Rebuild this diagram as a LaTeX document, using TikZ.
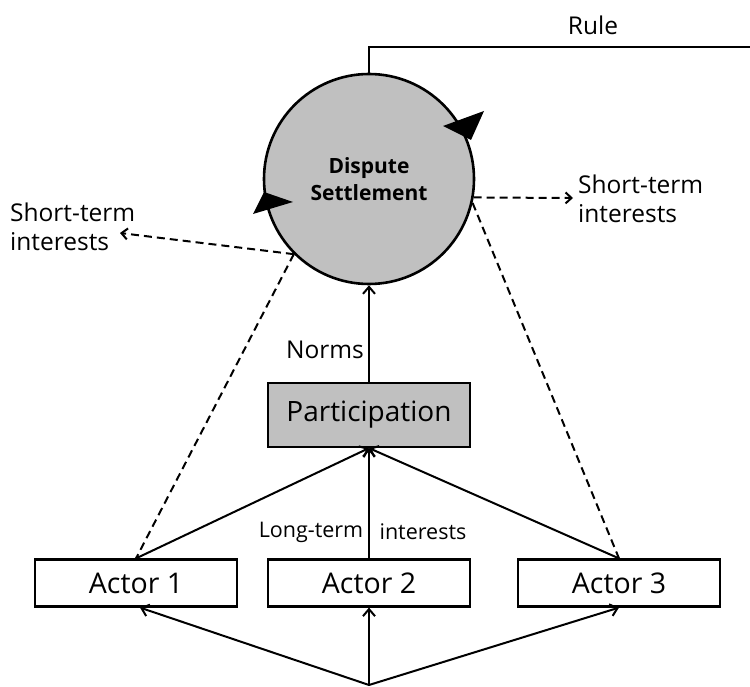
\documentclass[tikz,border=0pt]{standalone}
\usepackage{fontspec}
\setmainfont{Open Sans}
\usetikzlibrary{arrows.meta}
\definecolor{fillgray}{RGB}{192,192,192}
\begin{document}
\begin{tikzpicture}[x=1pt,y=-1pt,
  box/.style={draw, line width=2.2pt, minimum width=202pt, minimum height=47pt, inner sep=0pt,
    font=\fontsize{28.5}{32}\selectfont},
  lbl/.style={inner sep=0pt, font=\fontsize{24.5}{29}\selectfont, align=left},
  conn/.style={line width=2pt, -{Straight Barb[length=7pt,width=12pt]}},
  dconn/.style={line width=2pt, dash pattern=on 8pt off 5pt},
  head/.style={fill=black, draw=none}]
\useasboundingbox (0,0) rectangle (750,687);

% nodes
\node[circle, draw, line width=2.6pt, fill=fillgray, minimum size=210pt, inner sep=0pt,
  font=\bfseries\fontsize{21}{27}\selectfont, align=center] (ds) at (369,179) {Dispute\\Settlement};
\node[box, fill=fillgray, minimum height=64pt, font=\fontsize{28}{32}\selectfont] (part) at (369,415) {Participation};
\node[box] (a1) at (136,583) {Actor 1};
\node[box] (a2) at (369,583) {Actor 2};
\node[box] (a3) at (619,583) {Actor 3};
\coordinate (src) at (369,685);
\coordinate (rc) at (369,47);
\coordinate (re) at (750,47);
\coordinate (stl) at (120,233);
\coordinate (str) at (573,198);

\node[lbl] (rule) at (593,25) {Rule};
\node[lbl, anchor=west] (stlt) at (10,227) {Short-term\\interests};
\node[lbl, anchor=west] (strt) at (578,199) {Short-term\\interests};
\node[lbl] (norms) at (325,350) {Norms};
\node[lbl, font=\fontsize{21.5}{24}\selectfont] (lt1) at (311,532) {Long-term};
\node[lbl, font=\fontsize{21.5}{24}\selectfont] (lt2) at (423,532) {interests};

% rule line
\draw[line width=2pt] (ds.north) -- (rc) -- (re);

% circular arrowheads
\fill[head] (443,126) -- (484,111) -- (471,140) -- cycle;
\fill[head] (264,192) -- (293,202) -- (253,214) -- cycle;

% norms
\draw[conn] (part.north) -- (ds.south);

% actors to participation
\draw[conn] (a1.north) -- (part.south);
\draw[conn] (a2.north) -- (part.south);
\draw[conn] (a3.north) -- (part.south);

% source to actors
\draw[conn] (src) -- ([xshift=4pt]a1.south);
\draw[conn] (src) -- (a2.south);
\draw[conn] (src) -- (a3.south);

% dashed short-term
\draw[dconn] (ds.-135) -- (a1.north);
\draw[dconn, -{Straight Barb[length=6pt,width=11pt]}] (ds.-135) -- (stl);
\draw[dconn] (ds.-13) -- (a3.north);
\draw[dconn, -{Straight Barb[length=6pt,width=11pt]}] (ds.-10) -- (str);
\end{tikzpicture}
\end{document}
